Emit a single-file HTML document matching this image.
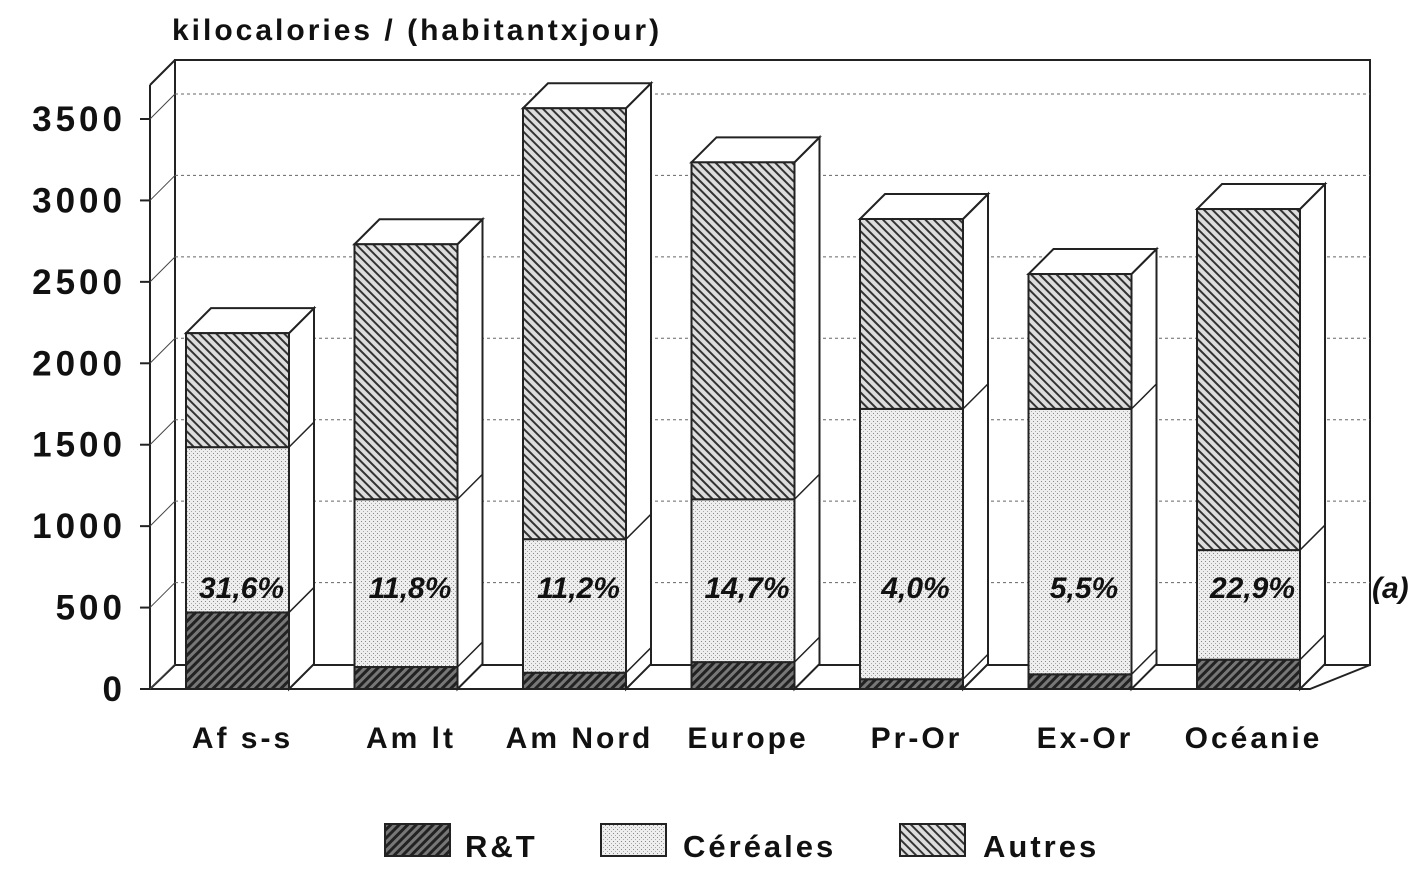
<!DOCTYPE html>
<html><head><meta charset="utf-8"><style>
body{margin:0;background:#fff;}
svg{display:block;font-family:"Liberation Sans",sans-serif;}
</style></head><body>
<svg id="chart" width="1426" height="880" viewBox="0 0 1426 880">
<defs>
<pattern id="pRT" patternUnits="userSpaceOnUse" width="6" height="6" patternTransform="rotate(45)">
<rect width="6" height="6" fill="#777"/><rect width="3" height="6" fill="#222"/></pattern>
<pattern id="pAut" patternUnits="userSpaceOnUse" width="6" height="6" patternTransform="rotate(-45)">
<rect width="6" height="6" fill="#ddd"/><rect width="2" height="6" fill="#333"/></pattern>
<pattern id="pCer" patternUnits="userSpaceOnUse" width="4" height="4">
<rect width="4" height="4" fill="#eee"/><rect x="1" y="1" width="1" height="1" fill="#888"/><rect x="3" y="3" width="1" height="1" fill="#aaa"/></pattern>
</defs>
<g id="frame"></g><g id="bars"></g><g id="labels"></g>
</svg>
<script>
const categories=["Af s-s","Am lt","Am Nord","Europe","Pr-Or","Ex-Or","Océanie"];
const rtValues=[470,135,100,165,60,90,180];
const cerValues=[1015,1030,820,1000,1660,1630,673];
const autValues=[700,1566,2646,2069,1166,828,2094];
const pctLabels=["31,6%","11,8%","11,2%","14,7%","4,0%","5,5%","22,9%"];
const yTicks=[0,500,1000,1500,2000,2500,3000,3500];
const NS="http://www.w3.org/2000/svg";
const y0=689,pxPer=570/3500,dx=25,dy=-25;
const yS=v=>y0-v*pxPer;
const xS=i=>186+i*168.5;
const bw=103;
function mk(tag,at,parent,txt){const e=document.createElementNS(NS,tag);for(const k in at)e.setAttribute(k,at[k]);if(txt!==undefined)e.textContent=txt;parent.appendChild(e);return e;}
const frame=document.getElementById('frame'),bars=document.getElementById('bars'),labels=document.getElementById('labels');
let e=mk('rect',{x:175,y:60,width:1195,height:605,fill:'#fff',stroke:'#222','stroke-width':2},frame);

e=mk('polygon',{points:`150,689 1310,689 1370,665 175,665`,fill:'#fff',stroke:'#222','stroke-width':2},frame);

mk('line',{x1:150,y1:85,x2:150,y2:689,stroke:'#222','stroke-width':2},frame);
mk('line',{x1:150,y1:85,x2:175,y2:60,stroke:'#222','stroke-width':2},frame);
yTicks.forEach(t=>{
 const y=yS(t);
 if(t>0){const g=mk('line',{x1:175,y1:y+dy,x2:1370,y2:y+dy,stroke:'#666','stroke-width':1,'stroke-dasharray':'3,3'},frame);
 }
 mk('line',{x1:150,y1:y,x2:175,y2:y+dy,stroke:'#444','stroke-width':1},frame);
 mk('line',{x1:140,y1:y,x2:150,y2:y,stroke:'#222','stroke-width':2},frame);
 const l=mk('text',{x:126,y:y+12,'text-anchor':'end','font-size':35,'font-weight':'bold',fill:'#111','letter-spacing':4},labels,String(t));
 
});
categories.forEach((c,i)=>{
 const x=xS(i);
 const segs=[[0,rtValues[i],'url(#pRT)','segment-rt'],[rtValues[i],rtValues[i]+cerValues[i],'url(#pCer)','segment-cereales'],[rtValues[i]+cerValues[i],rtValues[i]+cerValues[i]+autValues[i],'url(#pAut)','segment-autres']];
 const top=segs[2][1];
 const g=mk('g',{},bars);
 mk('polygon',{points:`${x+bw},${yS(0)} ${x+bw+dx},${yS(0)+dy} ${x+bw+dx},${yS(top)+dy} ${x+bw},${yS(top)}`,fill:'#fff',stroke:'#222','stroke-width':2},g);
 mk('polygon',{points:`${x},${yS(top)} ${x+dx},${yS(top)+dy} ${x+bw+dx},${yS(top)+dy} ${x+bw},${yS(top)}`,fill:'#fff',stroke:'#222','stroke-width':2},g);
 segs.forEach(s=>{
  const r=mk('rect',{x:x,y:yS(s[1]),width:bw,height:yS(s[0])-yS(s[1]),fill:s[2],stroke:'#222','stroke-width':2},g);
  
  mk('line',{x1:x+bw,y1:yS(s[1]),x2:x+bw+dx,y2:yS(s[1])+dy,stroke:'#222','stroke-width':1.5},g);
 });
 const p=mk('text',{x:x+bw/2+4,y:598,'text-anchor':'middle','font-size':30,'font-weight':'bold','font-style':'italic',fill:'#111'},labels,pctLabels[i]);
 
 const t=mk('text',{x:x+bw/2+5,y:748,'text-anchor':'middle','font-size':30,'font-weight':'bold',fill:'#111','letter-spacing':3},labels,c);
 
});
let t=mk('text',{x:172,y:40,'font-size':30,'font-weight':'bold',fill:'#111','letter-spacing':3},labels,'kilocalories / (habitantxjour)');

t=mk('text',{x:1372,y:598,'font-size':30,'font-weight':'bold','font-style':'italic',fill:'#111'},labels,'(a)');

[['R&T','url(#pRT)',385,465],['Céréales','url(#pCer)',601,683],['Autres','url(#pAut)',900,983]].forEach(L=>{
 const g=mk('g',{},labels);
 mk('rect',{x:L[2],y:824,width:65,height:32,fill:L[1],stroke:'#222','stroke-width':2},g);
 mk('text',{x:L[3],y:857,'font-size':31,'font-weight':'bold',fill:'#111','letter-spacing':3},g,L[0]);
});
</script>
</body></html>
